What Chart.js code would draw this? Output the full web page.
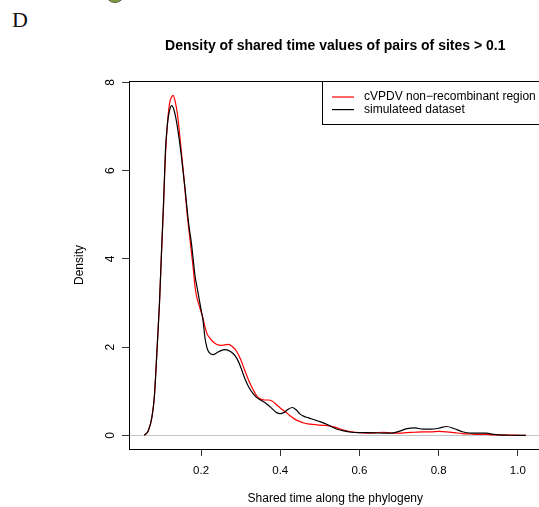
<!DOCTYPE html>
<html>
<head>
<meta charset="utf-8">
<script src="https://cdn.jsdelivr.net/npm/chart.js@4.4.1/dist/chart.umd.min.js"></script>
<style>
  html, body { margin: 0; padding: 0; background: #fff; overflow: hidden; }
  #wrap { position: relative; width: 539px; height: 507px; overflow: hidden; }
  #chart { position: absolute; left: 0; top: 0; }
  #panel { position: absolute; left: 12px; top: 9px; font: 22px "Liberation Serif", "DejaVu Serif", serif; line-height: 1; color: #111; }
  #dot { position: absolute; left: 105px; top: -17px; width: 20px; height: 20px; border-radius: 50%;
         background: #7f9a45; border: 1px solid #55603a; box-sizing: border-box; }
</style>
</head>
<body>
<div id="wrap">
  <div id="dot"></div>
  <div id="panel">D</div>
  <canvas id="chart" width="560" height="507"></canvas>
</div>
<script>
// shared x grid (shared time along the phylogeny)
const shared = [0.057, 0.067, 0.076, 0.082, 0.086, 0.090, 0.095, 0.100, 0.105, 0.110,
  0.115, 0.120, 0.126, 0.130, 0.135, 0.140, 0.145, 0.150, 0.155, 0.160,
  0.165, 0.170, 0.175, 0.180, 0.185, 0.190, 0.195, 0.200, 0.205, 0.210,
  0.215, 0.220, 0.230, 0.240, 0.250, 0.260, 0.270, 0.280, 0.290, 0.300,
  0.310, 0.320, 0.330, 0.340, 0.350, 0.360, 0.370, 0.380, 0.390, 0.400,
  0.410, 0.420, 0.430, 0.440, 0.450, 0.460, 0.470, 0.480, 0.490, 0.500,
  0.520, 0.540, 0.560, 0.580, 0.600, 0.620, 0.640, 0.660, 0.680, 0.700,
  0.720, 0.740, 0.760, 0.780, 0.800, 0.820, 0.840, 0.860, 0.880, 0.900,
  0.920, 0.940, 0.960, 0.980, 1.000, 1.020];

// density, cVPDV non-recombinant region
const cvpdv = [0, 0.11, 0.42, 0.87, 1.47, 2.15, 3.0, 4.1, 5.15, 6.35,
  7.05, 7.5, 7.68, 7.70, 7.55, 7.3, 6.9, 6.45, 6.0, 5.5,
  5.0, 4.6, 4.2, 3.8, 3.35, 3.1, 2.95, 2.8, 2.65, 2.45,
  2.3, 2.23, 2.12, 2.06, 2.04, 2.05, 2.06, 2.0, 1.9, 1.72,
  1.48, 1.25, 1.06, 0.9, 0.82, 0.80, 0.80, 0.77, 0.70, 0.62,
  0.55, 0.48, 0.41, 0.35, 0.31, 0.28, 0.26, 0.25, 0.24, 0.23,
  0.22, 0.18, 0.12, 0.08, 0.06, 0.05, 0.06, 0.07, 0.05, 0.05,
  0.06, 0.07, 0.08, 0.08, 0.09, 0.08, 0.06, 0.04, 0.03, 0.02,
  0.02, 0.01, 0.01, 0.005, 0.002, 0];

// density, simulated dataset
const simulated = [0, 0.11, 0.42, 0.87, 1.47, 2.15, 3.0, 4.15, 5.22, 6.45,
  7.05, 7.35, 7.47, 7.42, 7.25, 7.0, 6.7, 6.35, 5.95, 5.55,
  5.1, 4.7, 4.4, 4.0, 3.6, 3.35, 3.1, 2.85, 2.6, 2.2,
  1.98, 1.88, 1.83, 1.87, 1.92, 1.94, 1.92, 1.86, 1.75, 1.55,
  1.3, 1.1, 0.96, 0.86, 0.80, 0.75, 0.68, 0.60, 0.52, 0.49,
  0.52, 0.59, 0.63, 0.58, 0.48, 0.43, 0.40, 0.37, 0.34, 0.31,
  0.24, 0.15, 0.10, 0.07, 0.06, 0.06, 0.055, 0.05, 0.05, 0.09,
  0.15, 0.17, 0.14, 0.14, 0.16, 0.20, 0.15, 0.08, 0.05, 0.05,
  0.05, 0.02, 0.005, 0.002, 0.001, 0];

const xTicks = [0.2, 0.4, 0.6, 0.8, 1.0];
const yTicks = [0, 2, 4, 6, 8];
const seriesNames = ['cVPDV non\u2212recombinant region', 'simulateed dataset'];

const sans = '"Liberation Sans", Arial, Helvetica, sans-serif';

const toPoints = ys => shared.map((x, i) => ({ x: x, y: ys[i] }));

// frame, zero line and boxed legend in the style of base R graphics
const basePlot = {
    id: 'basePlot',
    beforeDatasetsDraw(chart) {
        const { ctx, chartArea: a, scales } = chart;
        const y0 = Math.round(scales.y.getPixelForValue(0)) + 0.5;
        ctx.save();
        ctx.strokeStyle = '#c4c4c4';
        ctx.lineWidth = 1;
        ctx.beginPath();
        ctx.moveTo(a.left, y0);
        ctx.lineTo(a.right, y0);
        ctx.stroke();
        ctx.restore();
    },
    afterDraw(chart) {
        const { ctx, chartArea: a } = chart;
        ctx.save();
        ctx.strokeStyle = '#000';
        ctx.lineWidth = 1;
        ctx.strokeRect(a.left + 0.5, a.top + 0.5, a.right - a.left, a.bottom - a.top);

        // legend box in the top right corner
        const lx = 322.5, ly = a.top + 0.5, lh = 43;
        ctx.strokeRect(lx, ly, a.right - lx, lh);
        ctx.font = '12px ' + sans;
        ctx.textBaseline = 'middle';
        ctx.textAlign = 'left';
        chart.data.datasets.forEach((ds, i) => {
            const yy = 97 + i * 12.6;
            ctx.strokeStyle = ds.borderColor;
            ctx.lineWidth = 1.2;
            ctx.beginPath();
            ctx.moveTo(332, yy);
            ctx.lineTo(354, yy);
            ctx.stroke();
            ctx.fillStyle = '#000';
            ctx.fillText(ds.label, 364, yy);
        });
        ctx.restore();
    }
};

const ctx = document.getElementById('chart').getContext('2d');
new Chart(ctx, {
    type: 'line',
    data: {
        datasets: [{
            label: seriesNames[0],
            data: toPoints(cvpdv),
            borderColor: '#ff0000',
            order: 1
        }, {
            label: seriesNames[1],
            data: toPoints(simulated),
            borderColor: '#000000',
            order: 0
        }]
    },
    options: {
        responsive: false,
        animation: false,
        devicePixelRatio: 1,
        layout: { padding: { left: 0, right: 18.4, top: 0, bottom: 0 } },
        elements: {
            point: { radius: 0 },
            line: { borderWidth: 1.2, cubicInterpolationMode: 'monotone', fill: false }
        },
        plugins: {
            legend: { display: false },
            tooltip: { enabled: false },
            title: {
                display: true,
                fullSize: false,
                text: 'Density of shared time values of pairs of sites > 0.1',
                color: '#000',
                font: { family: sans, size: 14, weight: 'bold' },
                padding: { top: 37.6, bottom: 26.6 }
            }
        },
        scales: {
            x: {
                type: 'linear',
                min: 0.018,
                max: 1.06,
                afterFit: s => { s.height = 58; },
                afterBuildTicks: s => { s.ticks = xTicks.map(v => ({ value: v })); },
                border: { display: false },
                grid: { drawOnChartArea: false, drawTicks: true, tickLength: 7, color: '#333', lineWidth: 1 },
                ticks: {
                    color: '#000',
                    padding: 8,
                    maxRotation: 0,
                    font: { family: sans, size: 11.5 },
                    callback: v => v.toFixed(1)
                },
                title: {
                    display: true,
                    text: 'Shared time along the phylogeny',
                    color: '#000',
                    font: { family: sans, size: 12 },
                    padding: { top: 0, bottom: 1 }
                }
            },
            y: {
                type: 'linear',
                min: -0.31,
                max: 8.03,
                afterFit: s => { s.width = 129; },
                afterBuildTicks: s => { s.ticks = yTicks.map(v => ({ value: v })); },
                border: { display: false },
                grid: { drawOnChartArea: false, drawTicks: true, tickLength: 7, color: '#333', lineWidth: 1 },
                ticks: {
                    color: '#000',
                    padding: 7.5,
                    minRotation: 90,
                    maxRotation: 90,
                    crossAlign: 'center',
                    font: { family: sans, size: 12 },
                    callback: v => String(v)
                },
                title: {
                    display: true,
                    text: 'Density',
                    color: '#000',
                    font: { family: sans, size: 12 },
                    padding: { top: 72, bottom: 0 }
                }
            }
        }
    },
    plugins: [basePlot]
});
</script>
</body>
</html>
